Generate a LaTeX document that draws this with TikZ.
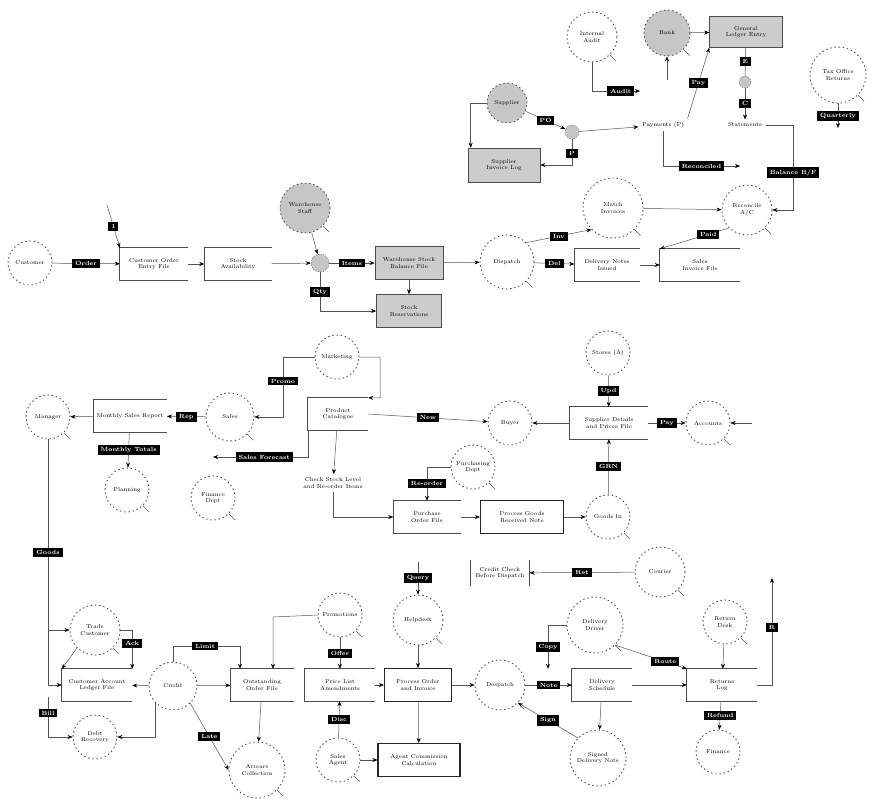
\documentclass[tikz,border=0pt]{standalone}
\usetikzlibrary{arrows.meta}

\newcommand\dfdfont{\fontsize{5.7}{6.6}\selectfont}

\tikzset{
  process/.style={circle,draw=gray!60!black,dash pattern=on 1.4pt off 2.8pt,line width=0.9pt,
    minimum size=#1,inner sep=0pt,align=center,font=\dfdfont},
  process/.default=46,
  extent/.style={process=#1,fill=gray!45},
  extent/.default=46,
  junct/.style={circle,fill=gray!45,draw=gray!60!black,dash pattern=on 1pt off 1.5pt,minimum size=#1,inner sep=0pt},
  gbox/.style={rectangle,fill=gray!40,draw=gray!60!black,line width=0.6pt,minimum width=#1,minimum height=33pt,align=center,font=\dfdfont},
  pbox/.style={rectangle,draw=gray!30!black,line width=1.1pt,minimum width=#1,minimum height=33pt,align=center,font=\dfdfont},
  store/.style={rectangle,minimum width=#1,minimum height=32pt,align=center,font=\dfdfont},
  memo/.style={rectangle,minimum height=26pt,inner xsep=5pt,align=center,font=\dfdfont},
  txt/.style={align=center,font=\dfdfont},
  flow/.style={fill=black,text=white,font=\fontsize{6}{7}\selectfont\bfseries,inner xsep=3pt,inner ysep=2.4pt},
  link/.style={draw=gray!65!black,line width=0.5pt,-{Stealth[length=5pt,width=4pt,black]}},
  plain/.style={draw=gray!65!black,line width=0.5pt},
}

\begin{document}
\begin{tikzpicture}[x=1pt,y=-1pt]
\useasboundingbox (0,0) rectangle (872,798);

% ledger and bank side
\node[process=50] (audit) at (592,37) {Internal\\Audit};
\node[extent=46] (bank) at (667,33) {Bank};
\node[gbox=73,minimum height=31pt] (ledger) at (746,32) {General\\Ledger Entry};
\node[junct=12] (j2) at (745,82) {};
\node[process=56] (tax) at (838,75) {Tax Office\\Returns};
\node[txt] (pays) at (663,125) {Payments (P)};
\node[txt] (stmt) at (745,125) {Statements};
\node[extent=40] (supplier) at (507,103) {Supplier};
\node[junct=14] (j1) at (572,132) {};
\node[gbox=72,minimum height=34pt] (suplog) at (504,165) {Supplier\\Invoice Log};
\node[process=60] (match) at (613,208) {Match\\Invoices};
\node[process=50] (recon) at (747,210) {Reconcile\\A/C};

% order entry
\node[process=44] (customer) at (30,263) {Customer};
\node[store=68] (orders) at (154,264) {Customer Order\\Entry File};
\node[store=67] (stock) at (238,264) {Stock\\Availability};
\node[junct=18] (j0) at (320,263) {};
\node[extent=50] (staff) at (305,208) {Warehouse\\Staff};
\node[gbox=68] (balance) at (409,263) {Warehouse Stock\\Balance File};
\node[gbox=65] (reserve) at (409,311) {Stock\\Reservations};
\node[process=54] (dispatch) at (507,262) {Dispatch};
\node[store=65] (notes) at (607,265) {Delivery Notes\\Issued};
\node[store=80] (salesinv) at (700,265) {Sales\\Invoice File};

% purchasing
\node[process=44] (manager) at (48,417) {Manager};
\node[store=66] (report) at (130,416) {Monthly Sales Report};
\node[process=48] (sales) at (230,417) {Sales};
\node[process=44] (planning) at (127,490) {Planning};
\node[process=44] (finance) at (213,498) {Finance\\Dept};
\node[process=44] (marketing) at (337,357) {Marketing};
\node[store=60] (catalogue) at (338,414) {Product\\Catalogue};
\node[txt] (check) at (333,483) {Check Stock Level\\and Re-order Items};
\node[process=44] (buyer) at (510,423) {Buyer};
\node[process=44] (purchasing) at (473,467) {Purchasing\\Dept};
\node[store=67] (porders) at (427,517) {Purchase\\Order File};
\node[pbox=83] (grn) at (522,517) {Process Goods\\Received Note};
\node[process=44] (goodsin) at (608,517) {Goods In};
\node[store=78] (suppliers) at (609,423) {Supplier Details\\and Prices File};
\node[process=44] (stores) at (608,353) {Stores (A)};
\node[process=44] (accounts) at (708,423) {Accounts};

% sales and delivery
\node[process=50] (trade) at (95,630) {Trade\\Customer};
\node[store=70] (custacc) at (97,685) {Customer Account\\Ledger File};
\node[process=48] (credit) at (173,686) {Credit};
\node[process=44] (debt) at (95,737) {Debt\\Recovery};
\node[store=63] (outst) at (262,685) {Outstanding\\Order File};
\node[process=56] (arrears) at (257,770) {Arrears\\Collection};
\node[process=44] (promo) at (340,615) {Promotions};
\node[store=70] (prices) at (340,685) {Price List\\Amendments};
\node[pbox=67] (procorder) at (418,685) {Process Order\\and Invoice};
\node[process=44] (agent) at (338,760) {Sales\\Agent};
\node[pbox=82] (commission) at (419,760) {Agent Commission\\Calculation};
\node[process=50] (helpdesk) at (418,620) {Helpdesk};
\node[memo] (rule) at (500,573) {Credit Check\\Before Dispatch};
\node[process=50] (despatch) at (500,685) {Despatch};
\node[process=50] (courier) at (660,572) {Courier};
\node[process=56] (driver) at (595,625) {Delivery\\Driver};
\node[store=60] (schedule) at (602,685) {Delivery\\Schedule};
\node[store=70] (returns) at (722,685) {Returns\\Log};
\node[process=44] (retdesk) at (725,622) {Return\\Desk};
\node[process=44] (refunds) at (718,752) {Finance};
\node[process=56] (signed) at (598,758) {Signed\\Delivery Note};

% open-ended data stores
\foreach \s in {orders,stock,notes,salesinv,report,catalogue,porders,suppliers,custacc,outst,prices,schedule,returns}
  \draw[gray!60!black,line width=0.8pt] (\s.north east) -- (\s.north west) -- (\s.south west) -- (\s.south east);
\draw[gray!60!black,line width=0.6pt] (rule.north west) -- (rule.south west) (rule.north east) -- (rule.south east);

% little tails on the processes
\foreach \c in {audit,bank,tax,match,recon,dispatch,staff,manager,sales,planning,finance,purchasing,accounts,goodsin,trade,promo,agent,helpdesk,despatch,courier,driver,retdesk,arrears}
  \draw[gray!70!black,line width=0.6pt] (\c.south east) -- ++(6,6);

% flows, top right
\coordinate (aud1) at (640,91);
\draw[link] (audit.south) |- node[flow,pos=0.8]{Audit} (aud1);
\coordinate (bk1) at (667,80);
\draw[link] (bk1) -- (bank.south);
\draw[link] (bank) -- (ledger);
\draw[link] (pays.north east) -- node[flow]{Pay} (ledger.south west);
\draw[plain] (ledger) -- node[flow]{E} (j2);
\draw[link] (j2) -- node[flow]{C} (stmt);
\coordinate (tx1) at (838,128);
\draw[link] (tax) -- node[flow]{Quarterly} (tx1);
\draw[link] (supplier) -- node[flow]{PO} (j1);
\draw[link] (j1) -- (pays);
\draw[link] (j1) |- node[flow,pos=0.27]{P} (suplog.east);
\draw[link] (supplier.west) -| ([xshift=3pt]suplog.north west);
\coordinate (rt1) at (793,125);
\draw[link] (stmt.east) -- (rt1) |- node[flow,pos=0.28]{Balance B/F} (recon.east);
\coordinate (rc1) at (740,166);
\draw[link] (pays.south) |- node[flow,pos=0.75]{Reconciled} (rc1);
\draw[link] (match) -- (recon);
\draw[link] (dispatch.north east) -- node[flow]{Inv} (match.south west);
\draw[link] (recon.south west) -- node[flow,pos=0.3]{Paid} (salesinv.north west);

% flows, order entry
\draw[link] (customer) -- node[flow]{Order} (orders);
\coordinate (o1) at (107,205);
\draw[link] (o1) -- node[flow]{1} (orders.north west);
\draw[link] (orders) -- (stock);
\draw[link] (stock) -- (j0);
\draw[link] (staff) -- (j0);
\draw[link] (j0) -- node[flow]{Items} (balance);
\draw[link] (j0) |- node[flow,pos=0.25]{Qty} (reserve);
\draw[link] (balance) -- (reserve);
\draw[link] (balance) -- (dispatch);
\draw[link] (dispatch) -- node[flow]{Del} (notes);
\draw[link] (notes) -- (salesinv);

% flows, purchasing
\draw[link] (report) -- (manager);
\draw[link] (sales) -- node[flow]{Rep} (report);
\draw[link] (report) -- node[flow]{Monthly Totals} (planning);
\coordinate (mk1) at (283,357);
\draw[link] (marketing.west) -- (mk1) |- node[flow,pos=0.2]{Promo} (sales.east);
\coordinate (mk2) at (380,398);
\draw[link] (marketing.east) -| (mk2) -- (catalogue.north east);
\coordinate (sf1) at (213,457);
\draw[link] (catalogue.south west) |- node[flow,pos=0.73]{Sales Forecast} (sf1);
\draw[link] (catalogue) -- (check);
\draw[link] (check.south) |- (porders.west);
\draw[link] (catalogue.east) -- node[flow]{New} (buyer);
\draw[link] (purchasing.west) -| node[flow,pos=0.75]{Re-order} (porders.north);
\draw[link] (porders) -- (grn);
\draw[link] (grn) -- (goodsin);
\draw[link] (goodsin) -- node[flow]{GRN} (suppliers);
\draw[link] (stores) -- node[flow]{Upd} (suppliers);
\draw[link] (suppliers) -- (buyer);
\draw[link] (suppliers) -- node[flow]{Pay} (accounts);
\coordinate (ac1) at (752,423);
\draw[link] (ac1) -- (accounts);

% flows, sales and delivery
\coordinate (tr0) at (48,630);
\draw[link] (manager.south) |- node[flow,pos=0.23]{Goods} (custacc.west);
\draw[link] (tr0) -- (trade.west);
\draw[link] (trade.east) -| node[flow,pos=0.67]{Ack} (custacc.north east);
\draw[link] (trade.south west) -- (custacc.north west);
\draw[link] (credit) -- (custacc);
\coordinate (bl) at (48,697);
\draw[link] (bl) |- node[flow,pos=0.2]{Bill} (debt.west);
\draw[link] (credit.south west) |- (debt.east);
\coordinate (lm) at (240,646);
\draw[link] (credit.north) |- node[flow,pos=0.74]{Limit} (lm) -- (lm |- outst.north);
\draw[link] (credit) -- (outst);
\coordinate (oc) at (273,617);
\draw[link] (promo.west) -- (oc) -- (oc |- outst.north);
\draw[link] (outst) -- (arrears);
\draw[link] (credit.south east) -- node[flow]{Late} (arrears.west);
\draw[link] (promo) -- node[flow]{Offer} (prices);
\draw[link] (prices) -- (procorder);
\draw[link] (agent) -- node[flow]{Disc} (prices);
\draw[link] (agent) -- (commission);
\draw[link] (procorder) -- (commission);
\coordinate (q1) at (418,562);
\draw[link] (q1) -- node[flow]{Query} (helpdesk);
\draw[link] (helpdesk) -- (procorder);
\draw[link] (procorder) -- (despatch);
\draw[link] (despatch) -- node[flow]{Note} (schedule);
\draw[link] (courier) -- node[flow]{Ret} (rule);
\coordinate (cp1) at (548,625);
\draw[link] (driver.west) -- (cp1) -- node[flow]{Copy} (cp1 |- schedule.north);
\draw[link] (schedule) -- (signed);
\draw[link] (signed.north west) -- node[flow]{Sign} (despatch.south east);
\draw[link] (schedule) -- (returns);
\draw[link] (driver.south east) -- node[flow,pos=0.7]{Route} (returns.north west);
\draw[link] (retdesk) -- (returns);
\coordinate (rr) at (772,578);
\draw[link] (returns.east) -| node[flow,pos=0.77]{R} (rr);
\draw[link] (returns) -- node[flow]{Refund} (refunds);
\end{tikzpicture}
\end{document}
